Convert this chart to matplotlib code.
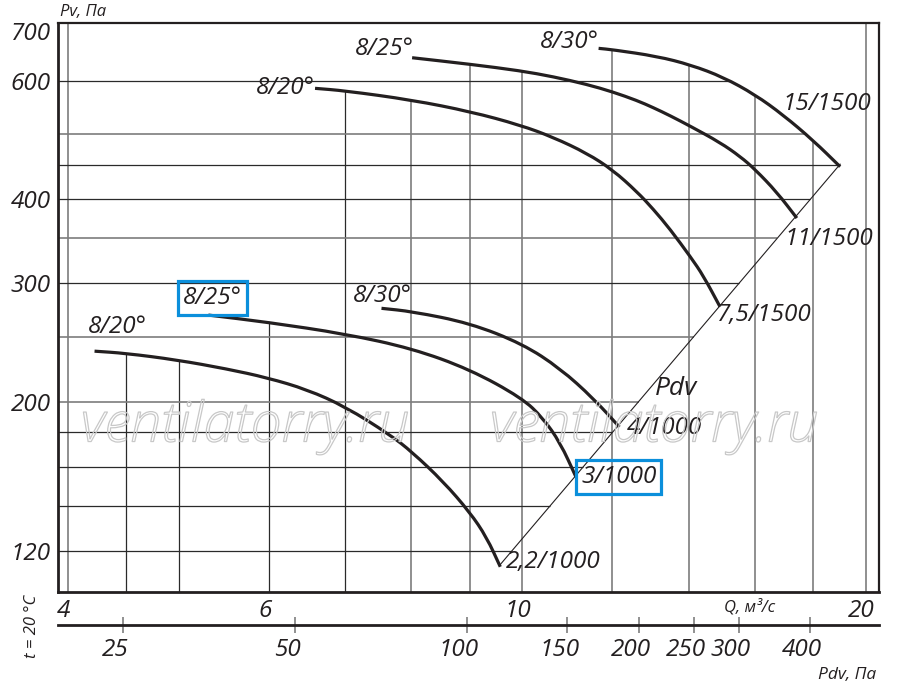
import numpy as np
import matplotlib
matplotlib.use("Agg")
import matplotlib.pyplot as plt
import matplotlib.patheffects as pe
from matplotlib.path import Path
from matplotlib.patches import PathPatch
from matplotlib.ticker import NullLocator
from matplotlib.transforms import ScaledTranslation

plt.rcParams['font.family'] = ['Open Sans', 'DejaVu Sans']
plt.rcParams['font.style'] = 'italic'

# ------------------- datos (Q, m3/s ; Pv, Pa) -------------------
# 1000 rpm
q_20_1000 = [4.22, 4.49, 4.98, 5.51, 5.98, 6.48, 7.00, 7.66, 8.01, 8.53, 9.00, 9.31, 9.57]
pv_20_1000 = [237.8, 236.1, 230.8, 223.8, 217.1, 208.5, 196.6, 178.6, 168.3, 152.1, 136.9, 125.7, 113.6]

q_25_1000 = [5.31, 5.98, 7.00, 8.01, 9.00, 10.0, 10.43, 10.80, 11.15]
pv_25_1000 = [269.1, 262.6, 252.3, 240.0, 223.4, 202.5, 189.1, 173.8, 154.5]

q_30_1000 = [7.53, 8.01, 9.00, 10.01, 10.80, 11.55, 12.17]
pv_30_1000 = [275.4, 272.4, 261.8, 243.8, 224.1, 202.2, 183.4]

# 1500 rpm
q_20_1500 = [6.585, 6.99, 8.01, 9.02, 9.96, 10.65, 11.40, 12.01, 12.61, 13.03, 13.48, 14.06, 14.42, 14.91]
pv_20_1500 = [585.2, 580.4, 562.2, 540.1, 516.0, 494.8, 468.4, 442.3, 410.6, 386.9, 361.2, 327.8, 307.7, 276.9]

q_25_1500 = [8.01, 9.02, 9.96, 10.65, 11.40, 12.01, 12.61, 13.03, 13.48, 14.06, 14.91, 15.53, 16.00, 16.72, 17.41]
pv_25_1500 = [649.9, 635.3, 621.6, 609.0, 593.1, 578.0, 561.3, 547.8, 532.9, 513.4, 486.1, 463.3, 443.4, 410.1, 375.2]

q_30_1500 = [11.67, 12.01, 13.13, 14.06, 15.01, 16.0, 16.94, 18.0, 19.0]
pv_30_1500 = [671.1, 667.9, 653.1, 634.0, 607.9, 572.7, 534.0, 489.3, 447.4]

etiq_inicio = ["8/20°", "8/25°", "8/30°", "8/20°", "8/25°", "8/30°"]
etiq_fin = ["2,2/1000", "3/1000", "4/1000", "7,5/1500", "11/1500", "15/1500"]

K_PDV = 1.25  # Pdv = K * Q^2

q_ticks = [4, 6, 10, 20]
pv_ticks = [120, 200, 300, 400, 600, 700]
pdv_ticks = [25, 50, 100, 150, 200, 250, 300, 400]

q_grid_osc = [4.5, 5, 6, 7]
q_grid_gris = [4, 8, 9, 10, 12, 14, 16, 18, 20]
pv_grid_osc = [120, 140, 160, 180, 300, 400, 450, 600]
pv_grid_gris = [200, 250, 350, 500]

q_lim = (3.92, 20.55)
pv_lim = (104.2, 732.0)

NEGRO = '#231f20'
AZUL = '#0b8fdb'
TAM = 17.5

curvas = [(q_20_1000, pv_20_1000), (q_25_1000, pv_25_1000), (q_30_1000, pv_30_1000),
          (q_20_1500, pv_20_1500), (q_25_1500, pv_25_1500), (q_30_1500, pv_30_1500)]


# ------------------- Funciones Auxiliares -------------------
def tope(q):
    vals = [np.interp(np.log(q), np.log(cq), np.log(cp))
            for cq, cp in curvas if cq[0] <= q <= cq[-1]]
    return np.exp(max(vals)) if vals else pv_lim[1]


def borde_derecho(p):
    qf, pf = curvas[5]
    if p >= pf[-1]:
        return np.exp(np.interp(np.log(p), np.log(pf[::-1]), np.log(qf[::-1])))
    return np.sqrt(p / K_PDV)


def correr(etiquetas, dx, dy=0):
    for t in etiquetas:
        t.set_transform(t.get_transform() + ScaledTranslation(dx / 100, dy / 100, fig.dpi_scale_trans))


def trazo(q, p):
    # curva de Bezier cuadratica con los puntos leidos como vertices de control
    lq, lp = np.log10(q), np.log10(p)
    medio = lambda a, b: 10 ** ((a + b) / 2)
    verts = [(q[0], p[0]), (medio(lq[0], lq[1]), medio(lp[0], lp[1]))]
    codes = [Path.MOVETO, Path.LINETO]
    for i in range(1, len(q) - 1):
        verts += [(q[i], p[i]), (medio(lq[i], lq[i + 1]), medio(lp[i], lp[i + 1]))]
        codes += [Path.CURVE3, Path.CURVE3]
    verts.append((q[-1], p[-1]))
    codes.append(Path.LINETO)
    return Path(verts, codes)


fig = plt.figure(figsize=(9, 6.92), dpi=100)
ax = fig.add_axes([0.06444, 0.14451, 0.91222, 0.82225])
ax.set_xscale('log')
ax.set_yscale('log')
ax.set_xlim(*q_lim)
ax.set_ylim(*pv_lim)

# rejilla
for q in q_grid_osc + q_grid_gris:
    col, lw = ('#2a2a2a', 0.9) if q in q_grid_osc else ('#7d7d7d', 1.2)
    ax.vlines(q, pv_lim[0], tope(q), color=col, lw=lw, zorder=1)
for p in pv_grid_osc + pv_grid_gris:
    col, lw = ('#2a2a2a', 0.9) if p in pv_grid_osc else ('#7d7d7d', 1.2)
    ax.hlines(p, q_lim[0], borde_derecho(p), color=col, lw=lw, zorder=1)

# linea Pdv
q_diag = np.array([q_20_1000[-1], q_30_1500[-1]])
ax.plot(q_diag, K_PDV * q_diag ** 2, color=NEGRO, lw=0.8, zorder=2)
ax.text(13.65, 209, "Pdv", fontsize=19, color=NEGRO, ha='center', va='center')

# curvas
off_ini = [(23, 24), (4, 17), (1, 12), (-30, 0), (-28, 9), (-29, 6)]
off_fin = [(6, 5), (5, 0), (7, -1), (-3, -8), (-12, -21), (-58, 63)]
for i, (cq, cp) in enumerate(curvas):
    ax.add_patch(PathPatch(trazo(cq, cp), fc='none', ec=NEGRO, lw=2.3,
                           capstyle='butt', joinstyle='round', zorder=3))
    caja = None
    if i == 1:
        caja = dict(boxstyle='square,pad=0.22', fc='none', ec=AZUL, lw=2.3)
    ax.annotate(etiq_inicio[i], (cq[0], cp[0]), xytext=off_ini[i], textcoords='offset pixels',
                ha='center', va='center', fontsize=TAM, color=NEGRO, bbox=caja, zorder=4)
    caja = None
    if i == 1:
        caja = dict(boxstyle='square,pad=0.2', fc='none', ec=AZUL, lw=2.3)
    ax.annotate(etiq_fin[i], (cq[-1], cp[-1]), xytext=off_fin[i], textcoords='offset pixels',
                ha='left', va='center', fontsize=TAM, color=NEGRO, bbox=caja, zorder=4)

# ejes
ax.xaxis.set_minor_locator(NullLocator())
ax.yaxis.set_minor_locator(NullLocator())
ax.set_xticks(q_ticks)
ax.set_xticklabels([str(v) for v in q_ticks])
ax.set_yticks(pv_ticks)
ax.set_yticklabels([str(v) for v in pv_ticks])
ax.tick_params(length=0, labelsize=TAM, colors=NEGRO)
ax.tick_params(axis='x', pad=5)
ax.tick_params(axis='y', pad=5)
correr(ax.get_xticklabels(), -4)
correr(ax.get_yticklabels()[-1:], 0, 5)
for s in ax.spines.values():
    s.set_linewidth(1.6)
    s.set_color(NEGRO)
ax.spines['left'].set_linewidth(2.0)
ax.spines['bottom'].set_linewidth(2.0)

# eje Pdv
ax2 = fig.add_axes([0.06444, 0.0968, 0.91222, 0.0001])
ax2.set_xscale('log')
ax2.set_xlim(K_PDV * q_lim[0] ** 2, K_PDV * q_lim[1] ** 2)
ax2.xaxis.set_minor_locator(NullLocator())
ax2.set_xticks(pdv_ticks)
ax2.set_xticklabels([str(v) for v in pdv_ticks])
ax2.set_yticks([])
for k in ['top', 'left', 'right']:
    ax2.spines[k].set_visible(False)
ax2.spines['bottom'].set_linewidth(2.0)
ax2.spines['bottom'].set_color(NEGRO)
ax2.tick_params(axis='x', direction='inout', length=12, width=1.3, color='#888888',
                pad=3, labelsize=TAM, labelcolor=NEGRO)
correr(ax2.get_xticklabels(), -8)
ax2.patch.set_visible(False)

# textos
fig.text(0.0667, 0.9827, "Pv, Па", fontsize=12, color=NEGRO, ha='left', va='center')
fig.text(0.8333, 0.1228, "Q, м³/с", fontsize=12, color=NEGRO, ha='center', va='center')
fig.text(0.9411, 0.0246, "Pdv, Па", fontsize=12.5, color=NEGRO, ha='center', va='center')
fig.text(0.0356, 0.0954, "t = 20 °C", fontsize=12, color=NEGRO, ha='center', va='center',
         rotation=90)

# marca de agua
for xf in [0.2722, 0.7267]:
    fig.text(xf, 0.3829, "ventilatorry.ru", fontsize=40, weight='light', color=(1, 1, 1, 0),
             ha='center', va='center', zorder=0.5,
             path_effects=[pe.Stroke(linewidth=0.9, foreground='#c8c8c8')])

fig.savefig("out.png", dpi=100)
